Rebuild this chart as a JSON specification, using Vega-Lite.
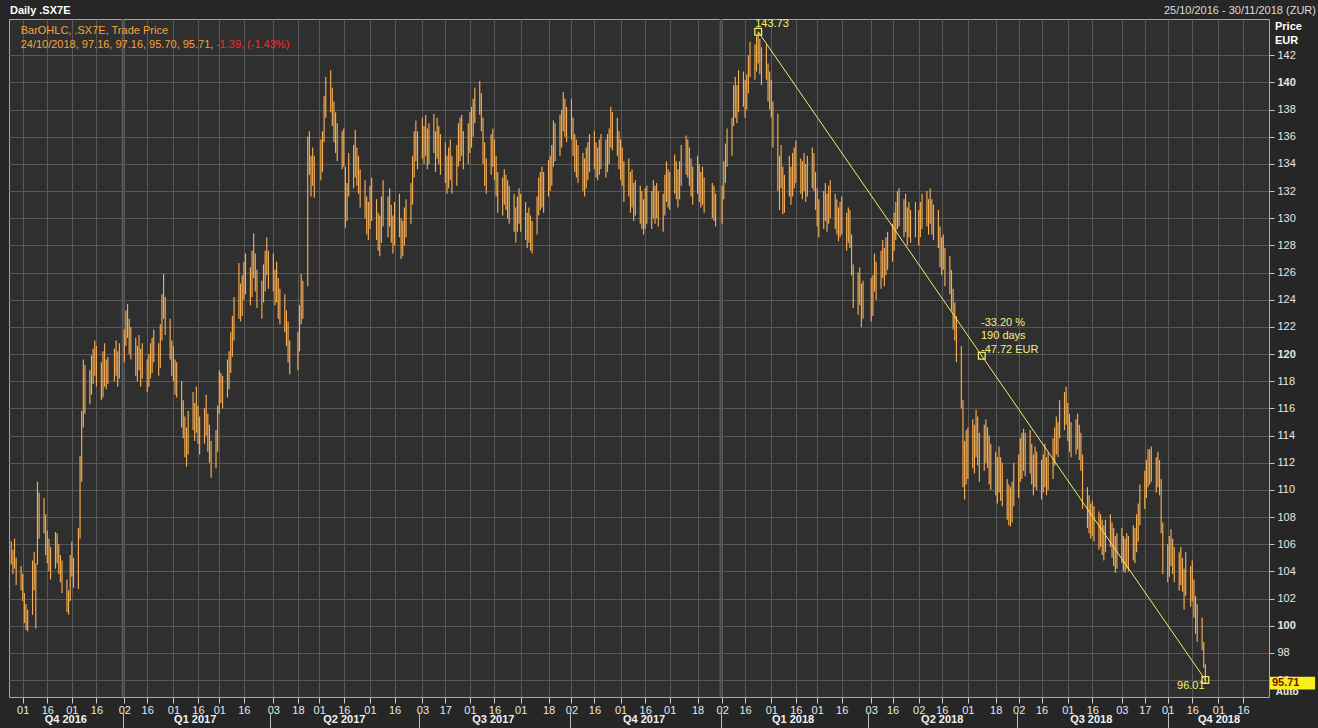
{
"$schema": "https://vega.github.io/schema/vega-lite/v6.json",
"width": 1260, "height": 678,
"autosize": "none",
"padding": {"left": 9, "top": 19, "right": 49, "bottom": 31},
"background": "#262626",
"config": {"font": "Liberation Sans", "view": {"fill": "#2f2f2f", "stroke": "#a8a8a8", "strokeWidth": 1}},
"datasets": {
"bars": [
{"d":"2016-10-25","l":104.5,"h":106.2},{"d":"2016-10-26","l":103.8,"h":105.6},{"d":"2016-10-27","l":104.2,"h":106.4},{"d":"2016-10-28","l":103.0,"h":105.0},{"d":"2016-10-31","l":102.6,"h":104.4},
{"d":"2016-11-01","l":101.8,"h":103.8},{"d":"2016-11-02","l":100.2,"h":102.4},{"d":"2016-11-03","l":99.7,"h":101.6},{"d":"2016-11-04","l":99.6,"h":101.2},{"d":"2016-11-07","l":100.8,"h":104.8},{"d":"2016-11-08","l":102.6,"h":105.4},{"d":"2016-11-09","l":99.8,"h":104.6},{"d":"2016-11-10","l":104.5,"h":110.6},{"d":"2016-11-11","l":106.4,"h":109.8},{"d":"2016-11-14","l":106.8,"h":109.4},{"d":"2016-11-15","l":105.2,"h":108.2},{"d":"2016-11-16","l":104.6,"h":107.0},{"d":"2016-11-17","l":104.0,"h":106.4},{"d":"2016-11-18","l":103.4,"h":105.8},{"d":"2016-11-21","l":104.2,"h":106.9},{"d":"2016-11-22","l":104.6,"h":106.8},{"d":"2016-11-23","l":103.8,"h":106.0},{"d":"2016-11-24","l":103.2,"h":105.2},{"d":"2016-11-25","l":102.4,"h":104.8},{"d":"2016-11-28","l":101.0,"h":103.4},{"d":"2016-11-29","l":100.8,"h":102.6},{"d":"2016-11-30","l":101.8,"h":105.2},
{"d":"2016-12-01","l":103.6,"h":106.2},{"d":"2016-12-02","l":102.8,"h":105.0},{"d":"2016-12-05","l":102.7,"h":107.2},{"d":"2016-12-06","l":106.4,"h":112.5},{"d":"2016-12-07","l":110.6,"h":115.8},{"d":"2016-12-08","l":114.6,"h":119.6},{"d":"2016-12-09","l":115.6,"h":119.2},{"d":"2016-12-12","l":116.3,"h":118.8},{"d":"2016-12-13","l":117.0,"h":119.9},{"d":"2016-12-14","l":117.8,"h":120.4},{"d":"2016-12-15","l":118.4,"h":121.0},{"d":"2016-12-16","l":117.6,"h":120.6},{"d":"2016-12-19","l":116.6,"h":119.4},{"d":"2016-12-20","l":116.8,"h":120.2},{"d":"2016-12-21","l":117.6,"h":120.8},{"d":"2016-12-22","l":117.4,"h":119.6},{"d":"2016-12-23","l":117.8,"h":119.8},{"d":"2016-12-27","l":118.0,"h":120.4},{"d":"2016-12-28","l":118.4,"h":121.0},{"d":"2016-12-29","l":117.6,"h":120.2},{"d":"2016-12-30","l":118.2,"h":120.8},
{"d":"2017-01-02","l":119.4,"h":121.8},{"d":"2017-01-03","l":120.6,"h":123.2},{"d":"2017-01-04","l":121.2,"h":123.7},{"d":"2017-01-05","l":120.0,"h":122.6},{"d":"2017-01-06","l":119.6,"h":122.0},{"d":"2017-01-09","l":118.4,"h":121.2},{"d":"2017-01-10","l":118.0,"h":120.6},{"d":"2017-01-11","l":118.8,"h":121.4},{"d":"2017-01-12","l":117.6,"h":120.4},{"d":"2017-01-13","l":118.2,"h":120.8},{"d":"2017-01-16","l":117.2,"h":119.6},{"d":"2017-01-17","l":117.6,"h":120.0},{"d":"2017-01-18","l":118.2,"h":120.8},{"d":"2017-01-19","l":118.6,"h":121.2},{"d":"2017-01-20","l":119.4,"h":121.8},{"d":"2017-01-23","l":118.4,"h":120.8},{"d":"2017-01-24","l":119.0,"h":122.2},{"d":"2017-01-25","l":121.0,"h":124.4},{"d":"2017-01-26","l":122.6,"h":125.9},{"d":"2017-01-27","l":121.4,"h":124.2},{"d":"2017-01-30","l":119.6,"h":122.6},{"d":"2017-01-31","l":118.4,"h":121.0},
{"d":"2017-02-01","l":118.0,"h":120.6},{"d":"2017-02-02","l":117.0,"h":119.6},{"d":"2017-02-03","l":116.8,"h":119.4},{"d":"2017-02-06","l":114.6,"h":118.0},{"d":"2017-02-07","l":113.8,"h":116.6},{"d":"2017-02-08","l":112.4,"h":115.4},{"d":"2017-02-09","l":111.7,"h":114.6},{"d":"2017-02-10","l":112.6,"h":115.8},{"d":"2017-02-13","l":114.4,"h":117.2},{"d":"2017-02-14","l":113.6,"h":116.4},{"d":"2017-02-15","l":114.2,"h":117.6},{"d":"2017-02-16","l":113.4,"h":116.2},{"d":"2017-02-17","l":112.6,"h":115.4},{"d":"2017-02-20","l":113.4,"h":116.0},{"d":"2017-02-21","l":114.0,"h":117.0},{"d":"2017-02-22","l":112.8,"h":115.6},{"d":"2017-02-23","l":112.0,"h":114.8},{"d":"2017-02-24","l":110.9,"h":113.6},{"d":"2017-02-27","l":111.6,"h":114.4},{"d":"2017-02-28","l":112.8,"h":116.2},
{"d":"2017-03-01","l":115.6,"h":118.8},{"d":"2017-03-02","l":116.4,"h":118.6},{"d":"2017-03-03","l":116.0,"h":118.4},{"d":"2017-03-06","l":116.8,"h":119.6},{"d":"2017-03-07","l":117.4,"h":120.2},{"d":"2017-03-08","l":118.6,"h":121.6},{"d":"2017-03-09","l":119.8,"h":122.8},{"d":"2017-03-10","l":121.0,"h":124.2},{"d":"2017-03-13","l":122.6,"h":126.7},{"d":"2017-03-14","l":122.4,"h":125.2},{"d":"2017-03-15","l":122.8,"h":125.8},{"d":"2017-03-16","l":124.0,"h":126.8},{"d":"2017-03-17","l":124.4,"h":127.4},{"d":"2017-03-20","l":123.6,"h":126.4},{"d":"2017-03-21","l":124.2,"h":127.6},{"d":"2017-03-22","l":125.6,"h":128.9},{"d":"2017-03-23","l":124.6,"h":127.4},{"d":"2017-03-24","l":123.4,"h":126.2},{"d":"2017-03-27","l":122.6,"h":125.4},{"d":"2017-03-28","l":123.8,"h":126.6},{"d":"2017-03-29","l":124.6,"h":127.6},{"d":"2017-03-30","l":125.8,"h":128.6},{"d":"2017-03-31","l":124.8,"h":127.6},
{"d":"2017-04-03","l":124.6,"h":127.4},{"d":"2017-04-04","l":123.6,"h":126.2},{"d":"2017-04-05","l":123.8,"h":126.8},{"d":"2017-04-06","l":122.6,"h":125.6},{"d":"2017-04-07","l":122.2,"h":124.8},{"d":"2017-04-10","l":121.6,"h":124.4},{"d":"2017-04-11","l":120.6,"h":123.2},{"d":"2017-04-12","l":119.4,"h":122.4},{"d":"2017-04-13","l":118.5,"h":121.0},{"d":"2017-04-18","l":118.8,"h":121.6},{"d":"2017-04-19","l":120.2,"h":123.6},{"d":"2017-04-20","l":122.2,"h":125.9},{"d":"2017-04-21","l":122.6,"h":125.4},{"d":"2017-04-24","l":125.0,"h":136.0},{"d":"2017-04-25","l":133.2,"h":136.4},{"d":"2017-04-26","l":131.6,"h":134.6},{"d":"2017-04-27","l":132.4,"h":135.2},{"d":"2017-04-28","l":131.5,"h":134.6},
{"d":"2017-05-02","l":132.8,"h":135.8},{"d":"2017-05-03","l":133.4,"h":136.4},{"d":"2017-05-04","l":135.6,"h":139.0},{"d":"2017-05-05","l":137.4,"h":140.4},{"d":"2017-05-08","l":137.8,"h":140.9},{"d":"2017-05-09","l":136.8,"h":139.6},{"d":"2017-05-10","l":135.6,"h":138.6},{"d":"2017-05-11","l":134.8,"h":137.8},{"d":"2017-05-12","l":134.2,"h":137.0},{"d":"2017-05-15","l":133.6,"h":136.4},{"d":"2017-05-16","l":133.8,"h":136.6},{"d":"2017-05-17","l":129.3,"h":133.8},{"d":"2017-05-18","l":129.8,"h":132.6},{"d":"2017-05-19","l":131.6,"h":134.8},{"d":"2017-05-22","l":132.2,"h":135.4},{"d":"2017-05-23","l":133.0,"h":136.5},{"d":"2017-05-24","l":132.4,"h":135.2},{"d":"2017-05-25","l":131.8,"h":134.6},{"d":"2017-05-26","l":130.8,"h":133.6},{"d":"2017-05-29","l":130.0,"h":132.8},{"d":"2017-05-30","l":128.8,"h":131.6},{"d":"2017-05-31","l":128.4,"h":131.2},
{"d":"2017-06-01","l":129.2,"h":132.4},{"d":"2017-06-02","l":129.8,"h":133.0},{"d":"2017-06-05","l":128.4,"h":131.4},{"d":"2017-06-06","l":127.6,"h":130.4},{"d":"2017-06-07","l":127.2,"h":130.2},{"d":"2017-06-08","l":128.2,"h":131.6},{"d":"2017-06-09","l":129.4,"h":132.8},{"d":"2017-06-12","l":128.6,"h":131.6},{"d":"2017-06-13","l":129.4,"h":132.2},{"d":"2017-06-14","l":128.2,"h":131.0},{"d":"2017-06-15","l":127.4,"h":130.2},{"d":"2017-06-16","l":128.0,"h":131.2},{"d":"2017-06-19","l":128.6,"h":131.8},{"d":"2017-06-20","l":127.0,"h":130.0},{"d":"2017-06-21","l":127.2,"h":129.8},{"d":"2017-06-22","l":128.0,"h":130.8},{"d":"2017-06-23","l":128.6,"h":131.4},{"d":"2017-06-26","l":129.6,"h":132.6},{"d":"2017-06-27","l":131.0,"h":134.6},{"d":"2017-06-28","l":133.0,"h":136.4},{"d":"2017-06-29","l":134.2,"h":137.2},{"d":"2017-06-30","l":133.6,"h":136.4},
{"d":"2017-07-03","l":134.4,"h":137.4},{"d":"2017-07-04","l":134.0,"h":136.8},{"d":"2017-07-05","l":134.6,"h":137.6},{"d":"2017-07-06","l":133.6,"h":136.6},{"d":"2017-07-07","l":134.0,"h":137.0},{"d":"2017-07-10","l":134.8,"h":137.7},{"d":"2017-07-11","l":133.4,"h":136.4},{"d":"2017-07-12","l":134.4,"h":137.4},{"d":"2017-07-13","l":134.0,"h":136.8},{"d":"2017-07-14","l":133.2,"h":136.2},{"d":"2017-07-17","l":132.6,"h":135.6},{"d":"2017-07-18","l":131.8,"h":134.6},{"d":"2017-07-19","l":132.2,"h":135.2},{"d":"2017-07-20","l":132.8,"h":135.8},{"d":"2017-07-21","l":131.8,"h":134.6},{"d":"2017-07-24","l":132.4,"h":135.4},{"d":"2017-07-25","l":133.8,"h":137.0},{"d":"2017-07-26","l":134.2,"h":137.4},{"d":"2017-07-27","l":134.6,"h":137.6},{"d":"2017-07-28","l":133.6,"h":136.4},{"d":"2017-07-31","l":134.0,"h":137.0},
{"d":"2017-08-01","l":134.8,"h":137.8},{"d":"2017-08-02","l":135.2,"h":138.2},{"d":"2017-08-03","l":136.0,"h":138.8},{"d":"2017-08-04","l":137.0,"h":139.6},{"d":"2017-08-07","l":137.6,"h":140.1},{"d":"2017-08-08","l":136.4,"h":139.2},{"d":"2017-08-09","l":134.0,"h":137.4},{"d":"2017-08-10","l":132.4,"h":135.6},{"d":"2017-08-11","l":131.8,"h":134.4},{"d":"2017-08-14","l":133.2,"h":136.2},{"d":"2017-08-15","l":133.8,"h":136.6},{"d":"2017-08-16","l":132.8,"h":135.8},{"d":"2017-08-17","l":131.6,"h":134.6},{"d":"2017-08-18","l":130.4,"h":133.4},{"d":"2017-08-21","l":130.2,"h":133.0},{"d":"2017-08-22","l":131.0,"h":133.6},{"d":"2017-08-23","l":130.6,"h":133.2},{"d":"2017-08-24","l":130.0,"h":132.8},{"d":"2017-08-25","l":129.6,"h":132.4},{"d":"2017-08-28","l":129.0,"h":131.8},{"d":"2017-08-29","l":128.2,"h":130.8},{"d":"2017-08-30","l":129.0,"h":131.6},{"d":"2017-08-31","l":129.6,"h":132.2},
{"d":"2017-09-01","l":129.0,"h":131.8},{"d":"2017-09-04","l":128.4,"h":131.2},{"d":"2017-09-05","l":127.8,"h":130.4},{"d":"2017-09-06","l":128.2,"h":130.8},{"d":"2017-09-07","l":127.6,"h":130.2},{"d":"2017-09-08","l":127.4,"h":129.8},{"d":"2017-09-11","l":128.8,"h":131.6},{"d":"2017-09-12","l":130.2,"h":133.0},{"d":"2017-09-13","l":130.6,"h":133.4},{"d":"2017-09-14","l":130.8,"h":133.8},{"d":"2017-09-15","l":130.4,"h":133.4},{"d":"2017-09-18","l":131.6,"h":134.3},{"d":"2017-09-19","l":132.0,"h":134.6},{"d":"2017-09-20","l":132.4,"h":135.4},{"d":"2017-09-21","l":133.8,"h":137.2},{"d":"2017-09-22","l":134.2,"h":137.0},{"d":"2017-09-25","l":134.6,"h":137.6},{"d":"2017-09-26","l":135.2,"h":138.0},{"d":"2017-09-27","l":136.4,"h":139.3},{"d":"2017-09-28","l":136.0,"h":138.8},{"d":"2017-09-29","l":135.6,"h":138.2},
{"d":"2017-10-02","l":135.8,"h":138.8},{"d":"2017-10-03","l":134.6,"h":137.4},{"d":"2017-10-04","l":133.4,"h":136.2},{"d":"2017-10-05","l":133.0,"h":135.8},{"d":"2017-10-06","l":132.6,"h":135.4},{"d":"2017-10-09","l":132.0,"h":134.8},{"d":"2017-10-10","l":131.6,"h":134.4},{"d":"2017-10-11","l":132.2,"h":135.2},{"d":"2017-10-12","l":132.8,"h":135.6},{"d":"2017-10-13","l":133.4,"h":136.2},{"d":"2017-10-16","l":133.6,"h":136.4},{"d":"2017-10-17","l":133.0,"h":135.6},{"d":"2017-10-18","l":132.8,"h":135.2},{"d":"2017-10-19","l":133.2,"h":135.8},{"d":"2017-10-20","l":133.6,"h":136.2},{"d":"2017-10-23","l":133.0,"h":135.8},{"d":"2017-10-24","l":133.4,"h":136.2},{"d":"2017-10-25","l":134.0,"h":136.6},{"d":"2017-10-26","l":135.2,"h":138.2},{"d":"2017-10-27","l":135.0,"h":137.8},{"d":"2017-10-30","l":134.6,"h":137.4},{"d":"2017-10-31","l":133.6,"h":136.4},
{"d":"2017-11-01","l":132.8,"h":135.8},{"d":"2017-11-02","l":132.4,"h":135.2},{"d":"2017-11-03","l":131.2,"h":134.2},{"d":"2017-11-06","l":131.6,"h":134.4},{"d":"2017-11-07","l":130.4,"h":133.4},{"d":"2017-11-08","l":130.8,"h":133.6},{"d":"2017-11-09","l":129.8,"h":132.6},{"d":"2017-11-10","l":130.2,"h":132.8},{"d":"2017-11-13","l":129.6,"h":132.4},{"d":"2017-11-14","l":129.2,"h":132.0},{"d":"2017-11-15","l":128.8,"h":131.4},{"d":"2017-11-16","l":129.2,"h":132.2},{"d":"2017-11-17","l":129.6,"h":132.4},{"d":"2017-11-20","l":129.2,"h":132.0},{"d":"2017-11-21","l":130.0,"h":132.8},{"d":"2017-11-22","l":129.6,"h":132.4},{"d":"2017-11-23","l":130.0,"h":132.6},{"d":"2017-11-24","l":129.4,"h":132.0},{"d":"2017-11-27","l":129.0,"h":131.8},{"d":"2017-11-28","l":130.2,"h":133.2},{"d":"2017-11-29","l":131.2,"h":134.2},{"d":"2017-11-30","l":130.8,"h":133.6},
{"d":"2017-12-01","l":130.6,"h":133.4},{"d":"2017-12-04","l":131.8,"h":134.7},{"d":"2017-12-05","l":131.4,"h":134.2},{"d":"2017-12-06","l":130.8,"h":133.6},{"d":"2017-12-07","l":131.4,"h":134.2},{"d":"2017-12-08","l":132.4,"h":135.4},{"d":"2017-12-11","l":133.2,"h":136.1},{"d":"2017-12-12","l":133.0,"h":135.8},{"d":"2017-12-13","l":132.4,"h":135.2},{"d":"2017-12-14","l":131.6,"h":134.4},{"d":"2017-12-15","l":131.0,"h":133.8},{"d":"2017-12-18","l":131.8,"h":134.6},{"d":"2017-12-19","l":131.2,"h":134.0},{"d":"2017-12-20","l":130.8,"h":133.4},{"d":"2017-12-21","l":131.0,"h":133.8},{"d":"2017-12-22","l":130.4,"h":133.0},{"d":"2017-12-27","l":130.0,"h":132.6},{"d":"2017-12-28","l":129.8,"h":132.4},{"d":"2017-12-29","l":129.4,"h":131.8},
{"d":"2018-01-02","l":129.6,"h":132.4},{"d":"2018-01-03","l":131.4,"h":134.2},{"d":"2018-01-04","l":132.6,"h":135.5},{"d":"2018-01-05","l":133.8,"h":136.6},{"d":"2018-01-08","l":134.6,"h":137.4},{"d":"2018-01-09","l":136.8,"h":139.8},{"d":"2018-01-10","l":137.4,"h":140.4},{"d":"2018-01-11","l":137.0,"h":139.8},{"d":"2018-01-12","l":137.8,"h":140.9},{"d":"2018-01-15","l":138.2,"h":140.8},{"d":"2018-01-16","l":137.4,"h":140.2},{"d":"2018-01-17","l":138.0,"h":140.6},{"d":"2018-01-18","l":139.2,"h":142.0},{"d":"2018-01-19","l":140.4,"h":143.0},{"d":"2018-01-22","l":140.2,"h":142.8},{"d":"2018-01-23","l":140.8,"h":143.4},{"d":"2018-01-24","l":141.4,"h":143.73},{"d":"2018-01-25","l":140.6,"h":143.2},{"d":"2018-01-26","l":139.8,"h":142.6},{"d":"2018-01-29","l":140.2,"h":142.8},{"d":"2018-01-30","l":138.6,"h":141.4},{"d":"2018-01-31","l":138.0,"h":140.8},
{"d":"2018-02-01","l":137.4,"h":140.2},{"d":"2018-02-02","l":135.2,"h":138.6},{"d":"2018-02-05","l":132.0,"h":137.7},{"d":"2018-02-06","l":130.6,"h":134.6},{"d":"2018-02-07","l":132.2,"h":135.4},{"d":"2018-02-08","l":130.3,"h":133.8},{"d":"2018-02-09","l":130.4,"h":133.2},{"d":"2018-02-12","l":131.6,"h":134.6},{"d":"2018-02-13","l":131.0,"h":133.8},{"d":"2018-02-14","l":131.6,"h":134.8},{"d":"2018-02-15","l":132.2,"h":135.2},{"d":"2018-02-16","l":132.6,"h":135.7},{"d":"2018-02-19","l":131.8,"h":134.4},{"d":"2018-02-20","l":131.4,"h":134.2},{"d":"2018-02-21","l":132.0,"h":134.8},{"d":"2018-02-22","l":131.2,"h":134.0},{"d":"2018-02-23","l":131.6,"h":134.6},{"d":"2018-02-26","l":132.2,"h":135.2},{"d":"2018-02-27","l":132.0,"h":134.8},{"d":"2018-02-28","l":130.6,"h":133.4},
{"d":"2018-03-01","l":129.4,"h":132.2},{"d":"2018-03-02","l":128.6,"h":131.4},{"d":"2018-03-05","l":129.2,"h":132.0},{"d":"2018-03-06","l":129.8,"h":132.6},{"d":"2018-03-07","l":129.0,"h":131.8},{"d":"2018-03-08","l":129.6,"h":132.4},{"d":"2018-03-09","l":130.0,"h":132.8},{"d":"2018-03-12","l":129.2,"h":131.8},{"d":"2018-03-13","l":128.8,"h":131.4},{"d":"2018-03-14","l":128.3,"h":130.8},{"d":"2018-03-15","l":128.6,"h":131.2},{"d":"2018-03-16","l":128.8,"h":131.6},{"d":"2018-03-19","l":127.6,"h":130.4},{"d":"2018-03-20","l":128.2,"h":130.8},{"d":"2018-03-21","l":127.8,"h":130.6},{"d":"2018-03-22","l":125.8,"h":128.8},{"d":"2018-03-23","l":123.4,"h":126.6},{"d":"2018-03-26","l":122.9,"h":126.0},{"d":"2018-03-27","l":123.6,"h":126.4},{"d":"2018-03-28","l":122.0,"h":125.2},{"d":"2018-03-29","l":122.6,"h":125.4},
{"d":"2018-04-03","l":122.4,"h":125.6},{"d":"2018-04-04","l":122.8,"h":125.8},{"d":"2018-04-05","l":124.6,"h":127.4},{"d":"2018-04-06","l":124.0,"h":126.8},{"d":"2018-04-09","l":124.8,"h":127.6},{"d":"2018-04-10","l":125.6,"h":128.4},{"d":"2018-04-11","l":125.0,"h":127.8},{"d":"2018-04-12","l":125.8,"h":128.6},{"d":"2018-04-13","l":126.2,"h":129.0},{"d":"2018-04-16","l":126.8,"h":129.6},{"d":"2018-04-17","l":127.6,"h":130.4},{"d":"2018-04-18","l":128.4,"h":131.2},{"d":"2018-04-19","l":129.2,"h":132.0},{"d":"2018-04-20","l":129.4,"h":132.2},{"d":"2018-04-23","l":128.6,"h":131.4},{"d":"2018-04-24","l":129.0,"h":131.8},{"d":"2018-04-25","l":128.0,"h":130.8},{"d":"2018-04-26","l":128.6,"h":131.2},{"d":"2018-04-27","l":128.2,"h":130.6},{"d":"2018-04-30","l":128.6,"h":131.2},
{"d":"2018-05-02","l":128.0,"h":130.6},{"d":"2018-05-03","l":128.6,"h":131.2},{"d":"2018-05-04","l":129.2,"h":131.8},{"d":"2018-05-07","l":129.4,"h":132.0},{"d":"2018-05-08","l":128.8,"h":131.4},{"d":"2018-05-09","l":129.6,"h":132.2},{"d":"2018-05-10","l":128.8,"h":131.4},{"d":"2018-05-11","l":128.4,"h":131.0},{"d":"2018-05-14","l":127.8,"h":130.6},{"d":"2018-05-15","l":126.4,"h":129.4},{"d":"2018-05-16","l":125.8,"h":128.6},{"d":"2018-05-17","l":126.2,"h":128.8},{"d":"2018-05-18","l":125.0,"h":127.8},{"d":"2018-05-21","l":124.4,"h":127.2},{"d":"2018-05-22","l":123.2,"h":126.2},{"d":"2018-05-23","l":121.8,"h":124.8},{"d":"2018-05-24","l":121.0,"h":123.8},{"d":"2018-05-25","l":119.4,"h":122.8},{"d":"2018-05-28","l":116.0,"h":120.6},{"d":"2018-05-29","l":110.2,"h":116.6},{"d":"2018-05-30","l":109.3,"h":113.6},{"d":"2018-05-31","l":110.4,"h":114.4},
{"d":"2018-06-01","l":110.8,"h":114.6},{"d":"2018-06-04","l":111.6,"h":115.2},{"d":"2018-06-05","l":111.2,"h":114.8},{"d":"2018-06-06","l":112.4,"h":115.9},{"d":"2018-06-07","l":111.8,"h":115.4},{"d":"2018-06-08","l":110.6,"h":114.2},{"d":"2018-06-11","l":111.4,"h":114.8},{"d":"2018-06-12","l":112.0,"h":115.2},{"d":"2018-06-13","l":111.6,"h":114.6},{"d":"2018-06-14","l":110.4,"h":114.0},{"d":"2018-06-15","l":110.0,"h":113.4},{"d":"2018-06-18","l":109.6,"h":112.8},{"d":"2018-06-19","l":109.0,"h":112.4},{"d":"2018-06-20","l":109.8,"h":113.2},{"d":"2018-06-21","l":109.2,"h":112.4},{"d":"2018-06-22","l":108.8,"h":112.0},{"d":"2018-06-25","l":107.8,"h":110.8},{"d":"2018-06-26","l":107.4,"h":110.4},{"d":"2018-06-27","l":107.3,"h":110.2},{"d":"2018-06-28","l":107.6,"h":110.6},{"d":"2018-06-29","l":108.8,"h":112.0},
{"d":"2018-07-02","l":109.4,"h":112.6},{"d":"2018-07-03","l":110.6,"h":113.8},{"d":"2018-07-04","l":110.8,"h":114.2},{"d":"2018-07-05","l":111.4,"h":114.5},{"d":"2018-07-06","l":111.0,"h":114.2},{"d":"2018-07-09","l":111.2,"h":114.4},{"d":"2018-07-10","l":110.4,"h":113.4},{"d":"2018-07-11","l":109.6,"h":112.6},{"d":"2018-07-12","l":110.2,"h":113.2},{"d":"2018-07-13","l":110.0,"h":112.8},{"d":"2018-07-16","l":109.3,"h":112.2},{"d":"2018-07-17","l":109.8,"h":112.6},{"d":"2018-07-18","l":110.2,"h":113.4},{"d":"2018-07-19","l":109.6,"h":112.4},{"d":"2018-07-20","l":110.0,"h":112.8},{"d":"2018-07-23","l":110.8,"h":113.8},{"d":"2018-07-24","l":111.8,"h":114.6},{"d":"2018-07-25","l":112.6,"h":115.4},{"d":"2018-07-26","l":112.4,"h":115.0},{"d":"2018-07-27","l":113.8,"h":116.6},{"d":"2018-07-30","l":114.4,"h":117.2},{"d":"2018-07-31","l":114.8,"h":117.6},
{"d":"2018-08-01","l":113.6,"h":116.4},{"d":"2018-08-02","l":112.8,"h":115.6},{"d":"2018-08-03","l":112.4,"h":115.0},{"d":"2018-08-06","l":112.6,"h":115.2},{"d":"2018-08-07","l":113.0,"h":115.6},{"d":"2018-08-08","l":112.2,"h":114.8},{"d":"2018-08-09","l":111.4,"h":114.2},{"d":"2018-08-10","l":108.6,"h":112.6},{"d":"2018-08-13","l":107.2,"h":110.2},{"d":"2018-08-14","l":106.8,"h":109.6},{"d":"2018-08-15","l":106.4,"h":109.0},{"d":"2018-08-16","l":106.6,"h":109.2},{"d":"2018-08-17","l":106.2,"h":108.8},{"d":"2018-08-20","l":105.6,"h":108.4},{"d":"2018-08-21","l":105.8,"h":108.2},{"d":"2018-08-22","l":105.2,"h":107.8},{"d":"2018-08-23","l":104.8,"h":107.4},{"d":"2018-08-24","l":105.4,"h":107.8},{"d":"2018-08-27","l":105.8,"h":108.2},{"d":"2018-08-28","l":105.0,"h":107.6},{"d":"2018-08-29","l":104.4,"h":107.2},{"d":"2018-08-30","l":103.9,"h":106.6},{"d":"2018-08-31","l":104.2,"h":106.8},
{"d":"2018-09-03","l":104.6,"h":107.2},{"d":"2018-09-04","l":104.0,"h":106.6},{"d":"2018-09-05","l":103.9,"h":106.4},{"d":"2018-09-06","l":104.2,"h":106.8},{"d":"2018-09-07","l":104.0,"h":106.6},{"d":"2018-09-10","l":104.8,"h":107.4},{"d":"2018-09-11","l":104.6,"h":107.2},{"d":"2018-09-12","l":105.4,"h":108.2},{"d":"2018-09-13","l":106.2,"h":109.0},{"d":"2018-09-14","l":107.4,"h":110.4},{"d":"2018-09-17","l":108.6,"h":111.4},{"d":"2018-09-18","l":109.4,"h":112.2},{"d":"2018-09-19","l":110.2,"h":113.0},{"d":"2018-09-20","l":110.4,"h":113.0},{"d":"2018-09-21","l":110.6,"h":113.2},{"d":"2018-09-24","l":109.8,"h":112.4},{"d":"2018-09-25","l":110.2,"h":112.8},{"d":"2018-09-26","l":109.6,"h":112.2},{"d":"2018-09-27","l":106.8,"h":110.8},{"d":"2018-09-28","l":103.8,"h":107.6},
{"d":"2018-10-01","l":103.2,"h":106.0},{"d":"2018-10-02","l":103.6,"h":106.6},{"d":"2018-10-03","l":104.4,"h":107.1},{"d":"2018-10-04","l":103.8,"h":106.4},{"d":"2018-10-05","l":103.2,"h":105.8},{"d":"2018-10-08","l":102.6,"h":105.4},{"d":"2018-10-09","l":103.0,"h":105.8},{"d":"2018-10-10","l":102.5,"h":105.0},{"d":"2018-10-11","l":101.2,"h":104.2},{"d":"2018-10-12","l":102.2,"h":105.4},{"d":"2018-10-15","l":101.4,"h":104.4},{"d":"2018-10-16","l":101.8,"h":104.8},{"d":"2018-10-17","l":100.6,"h":103.4},{"d":"2018-10-18","l":99.4,"h":102.2},{"d":"2018-10-19","l":98.8,"h":101.6},{"d":"2018-10-22","l":98.2,"h":100.6},{"d":"2018-10-23","l":96.9,"h":98.8},{"d":"2018-10-24","l":95.70,"h":97.16}
],
"trend": [{"d":"2018-01-24","p":143.73},{"d":"2018-10-24","p":96.01}],
"pins": [{"d":"2018-01-24","p":143.73},{"d":"2018-06-09T12:00:00Z","p":119.87},{"d":"2018-10-24","p":96.01}],
"years": [{"d":"2017-01-01"},{"d":"2018-01-01"}],
"one": [{}]
},
"layer": [
{"data": {"name": "years"}, "mark": {"type": "rule", "color": "#595959", "strokeWidth": 2},
 "encoding": {"x": {"field": "d", "type": "temporal", "axis": null}}},
{"data": {"name": "bars"}, "mark": {"type": "rule", "color": "#f6ad52", "strokeWidth": 1.15},
 "encoding": {
  "x": {"field": "d", "type": "temporal",
   "scale": {"type": "utc", "domain": [{"year":2016,"month":10,"date":23,"hours":15,"utc":true},{"year":2018,"month":12,"date":1,"hours":20,"utc":true}]},
   "axis": {"orient": "bottom", "title": null, "grid": true, "gridColor": "#585858", "domain": false, "tickColor": "#c8c8c8", "tickSize": 6, "labelPadding": 1, "labelColor": "#e6e6e6", "labelFontSize": 11, "labelOverlap": false, "labelFlush": false,
    "labelExpr": "utcFormat(datum.value, '%d')",
    "values": [
     {"year":2016,"month":11,"date":1,"utc":true},{"year":2016,"month":11,"date":16,"utc":true},{"year":2016,"month":12,"date":1,"utc":true},{"year":2016,"month":12,"date":16,"utc":true},
     {"year":2017,"month":1,"date":2,"utc":true},{"year":2017,"month":1,"date":16,"utc":true},{"year":2017,"month":2,"date":1,"utc":true},{"year":2017,"month":2,"date":16,"utc":true},{"year":2017,"month":3,"date":1,"utc":true},{"year":2017,"month":3,"date":16,"utc":true},
     {"year":2017,"month":4,"date":3,"utc":true},{"year":2017,"month":4,"date":18,"utc":true},{"year":2017,"month":5,"date":1,"utc":true},{"year":2017,"month":5,"date":16,"utc":true},{"year":2017,"month":6,"date":1,"utc":true},{"year":2017,"month":6,"date":16,"utc":true},
     {"year":2017,"month":7,"date":3,"utc":true},{"year":2017,"month":7,"date":17,"utc":true},{"year":2017,"month":8,"date":1,"utc":true},{"year":2017,"month":8,"date":16,"utc":true},{"year":2017,"month":9,"date":1,"utc":true},{"year":2017,"month":9,"date":18,"utc":true},
     {"year":2017,"month":10,"date":2,"utc":true},{"year":2017,"month":10,"date":16,"utc":true},{"year":2017,"month":11,"date":1,"utc":true},{"year":2017,"month":11,"date":16,"utc":true},{"year":2017,"month":12,"date":1,"utc":true},{"year":2017,"month":12,"date":18,"utc":true},
     {"year":2018,"month":1,"date":2,"utc":true},{"year":2018,"month":1,"date":16,"utc":true},{"year":2018,"month":2,"date":1,"utc":true},{"year":2018,"month":2,"date":16,"utc":true},{"year":2018,"month":3,"date":1,"utc":true},{"year":2018,"month":3,"date":16,"utc":true},
     {"year":2018,"month":4,"date":3,"utc":true},{"year":2018,"month":4,"date":16,"utc":true},{"year":2018,"month":5,"date":2,"utc":true},{"year":2018,"month":5,"date":16,"utc":true},{"year":2018,"month":6,"date":1,"utc":true},{"year":2018,"month":6,"date":18,"utc":true},
     {"year":2018,"month":7,"date":2,"utc":true},{"year":2018,"month":7,"date":16,"utc":true},{"year":2018,"month":8,"date":1,"utc":true},{"year":2018,"month":8,"date":16,"utc":true},{"year":2018,"month":9,"date":3,"utc":true},{"year":2018,"month":9,"date":17,"utc":true},
     {"year":2018,"month":10,"date":1,"utc":true},{"year":2018,"month":10,"date":16,"utc":true},{"year":2018,"month":11,"date":1,"utc":true},{"year":2018,"month":11,"date":16,"utc":true}
    ]}},
  "y": {"field": "l", "type": "quantitative",
   "scale": {"domain": [94.75, 144.67], "nice": false, "zero": false},
   "axis": {"orient": "right", "title": null, "grid": true, "gridColor": "#585858", "domain": false, "tickColor": "#c8c8c8", "tickSize": 5, "labelPadding": 3, "labelColor": "#e6e6e6", "labelFontSize": 11,
    "labelFontWeight": {"condition": {"test": "datum.value % 20 === 0", "value": "bold"}, "value": "normal"},
    "values": [96,98,100,102,104,106,108,110,112,114,116,118,120,122,124,126,128,130,132,134,136,138,140,142]}},
  "y2": {"field": "h"}
 }},
{"data": {"name": "trend"}, "mark": {"type": "line", "color": "#f0ee6a", "strokeWidth": 1},
 "encoding": {
  "x": {"field": "d", "type": "temporal",
   "axis": {"orient": "bottom", "title": null, "grid": false, "domain": false, "ticks": false, "tickSize": 0, "labelPadding": 16, "labelColor": "#f2f2f2", "labelFontSize": 11, "labelFontWeight": "bold", "labelOverlap": false, "labelFlush": false,
    "labelExpr": "'Q' + (floor(utcmonth(datum.value) / 3) + 1) + ' ' + utcyear(datum.value)",
    "values": [{"year":2016,"month":11,"date":27,"utc":true},{"year":2017,"month":2,"date":14,"utc":true},{"year":2017,"month":5,"date":16,"utc":true},{"year":2017,"month":8,"date":15,"utc":true},{"year":2017,"month":11,"date":15,"utc":true},{"year":2018,"month":2,"date":14,"utc":true},{"year":2018,"month":5,"date":16,"utc":true},{"year":2018,"month":8,"date":15,"utc":true},{"year":2018,"month":11,"date":1,"utc":true}]}},
  "y": {"field": "p", "type": "quantitative", "axis": null}
 }},
{"data": {"name": "pins"}, "mark": {"type": "point", "shape": "square", "filled": false, "color": "#f0ee6a", "size": 45, "strokeWidth": 1.3, "opacity": 1},
 "encoding": {
  "x": {"field": "d", "type": "temporal",
   "axis": {"orient": "bottom", "title": null, "grid": false, "domain": false, "labels": false, "ticks": true, "tickSize": 16, "offset": 15, "tickColor": "#bdbdbd",
    "values": [{"year":2017,"month":1,"date":1,"utc":true},{"year":2017,"month":4,"date":1,"utc":true},{"year":2017,"month":7,"date":1,"utc":true},{"year":2017,"month":10,"date":1,"utc":true},{"year":2018,"month":1,"date":1,"utc":true},{"year":2018,"month":4,"date":1,"utc":true},{"year":2018,"month":7,"date":1,"utc":true},{"year":2018,"month":10,"date":1,"utc":true}]}},
  "y": {"field": "p", "type": "quantitative", "axis": null}
 }},
{"data": {"name": "one"}, "mark": {"type": "text", "text": "Daily .SX7E", "align": "left", "baseline": "top", "fontSize": 11, "fontWeight": "bold", "color": "#ffffff"},
 "encoding": {"x": {"datum": {"year":2016,"month":10,"date":24,"hours":5,"utc":true}, "type": "temporal", "axis": null}, "y": {"datum": 145.73, "type": "quantitative", "axis": null}}},
{"data": {"name": "one"}, "mark": {"type": "text", "text": "25/10/2016 - 30/11/2018 (ZUR)", "align": "right", "baseline": "top", "fontSize": 11, "color": "#dcdcdc"},
 "encoding": {"x": {"datum": {"year":2018,"month":12,"date":30,"hours":12,"utc":true}, "type": "temporal", "axis": null}, "y": {"datum": 145.73, "type": "quantitative", "axis": null}}},
{"data": {"name": "one"}, "mark": {"type": "text", "text": ["Price", "EUR"], "align": "left", "baseline": "top", "fontSize": 11, "fontWeight": "bold", "lineHeight": 14, "color": "#ffffff"},
 "encoding": {"x": {"datum": {"year":2018,"month":12,"date":5,"hours":12,"utc":true}, "type": "temporal", "axis": null}, "y": {"datum": 144.53, "type": "quantitative", "axis": null}}},
{"data": {"name": "one"}, "mark": {"type": "text", "text": ["BarOHLC, .SX7E, Trade Price", "24/10/2018, 97.16, 97.16, 95.70, 95.71, "], "align": "left", "baseline": "top", "fontSize": 11, "lineHeight": 14, "color": "#f5a23c"},
 "encoding": {"x": {"datum": {"year":2016,"month":10,"date":30,"hours":18,"utc":true}, "type": "temporal", "axis": null}, "y": {"datum": 144.23, "type": "quantitative", "axis": null}}},
{"data": {"name": "one"}, "mark": {"type": "text", "text": "-1.39, (-1.43%)", "align": "left", "baseline": "top", "fontSize": 11, "color": "#ff2a2a"},
 "encoding": {"x": {"datum": {"year":2017,"month":2,"date":26,"hours":23,"utc":true}, "type": "temporal", "axis": null}, "y": {"datum": 143.20, "type": "quantitative", "axis": null}}},
{"data": {"name": "one"}, "mark": {"type": "text", "text": "143.73", "align": "left", "baseline": "top", "fontSize": 11, "color": "#f4f27a", "dx": -3},
 "encoding": {"x": {"datum": {"year":2018,"month":1,"date":24,"utc":true}, "type": "temporal", "axis": null}, "y": {"datum": 144.75, "type": "quantitative", "axis": null}}},
{"data": {"name": "one"}, "mark": {"type": "text", "text": ["-33.20 %", "190 days", "-47.72 EUR"], "align": "left", "baseline": "top", "fontSize": 11, "lineHeight": 13.5, "color": "#f4f27a"},
 "encoding": {"x": {"datum": {"year":2018,"month":6,"date":9,"utc":true}, "type": "temporal", "axis": null}, "y": {"datum": 122.73, "type": "quantitative", "axis": null}}},
{"data": {"name": "one"}, "mark": {"type": "text", "text": "96.01", "align": "right", "baseline": "top", "fontSize": 11, "color": "#f4f27a"},
 "encoding": {"x": {"datum": {"year":2018,"month":10,"date":23,"hours":12,"utc":true}, "type": "temporal", "axis": null}, "y": {"datum": 96.0, "type": "quantitative", "axis": null}}},
{"data": {"name": "one"}, "mark": {"type": "text", "text": "Auto", "align": "left", "baseline": "top", "fontSize": 10, "fontWeight": "bold", "color": "#e8e8e8"},
 "encoding": {"x": {"datum": {"year":2018,"month":12,"date":6,"utc":true}, "type": "temporal", "axis": null}, "y": {"datum": 95.45, "type": "quantitative", "axis": null}}},
{"data": {"name": "one"}, "mark": {"type": "rect", "color": "#f7ee1c"},
 "encoding": {"x": {"datum": {"year":2018,"month":12,"date":2,"hours":10,"utc":true}, "type": "temporal", "axis": null}, "x2": {"datum": {"year":2018,"month":12,"date":30,"utc":true}},
  "y": {"datum": 96.25, "type": "quantitative", "axis": null}, "y2": {"datum": 95.3}}},
{"data": {"name": "one"}, "mark": {"type": "text", "text": "95.71", "align": "left", "baseline": "middle", "fontSize": 11, "fontWeight": "bold", "color": "#7a1400"},
 "encoding": {"x": {"datum": {"year":2018,"month":12,"date":3,"hours":15,"utc":true}, "type": "temporal", "axis": null}, "y": {"datum": 95.78, "type": "quantitative", "axis": null}}}
],
"resolve": {"axis": {"x": "independent", "y": "independent"}}
}
